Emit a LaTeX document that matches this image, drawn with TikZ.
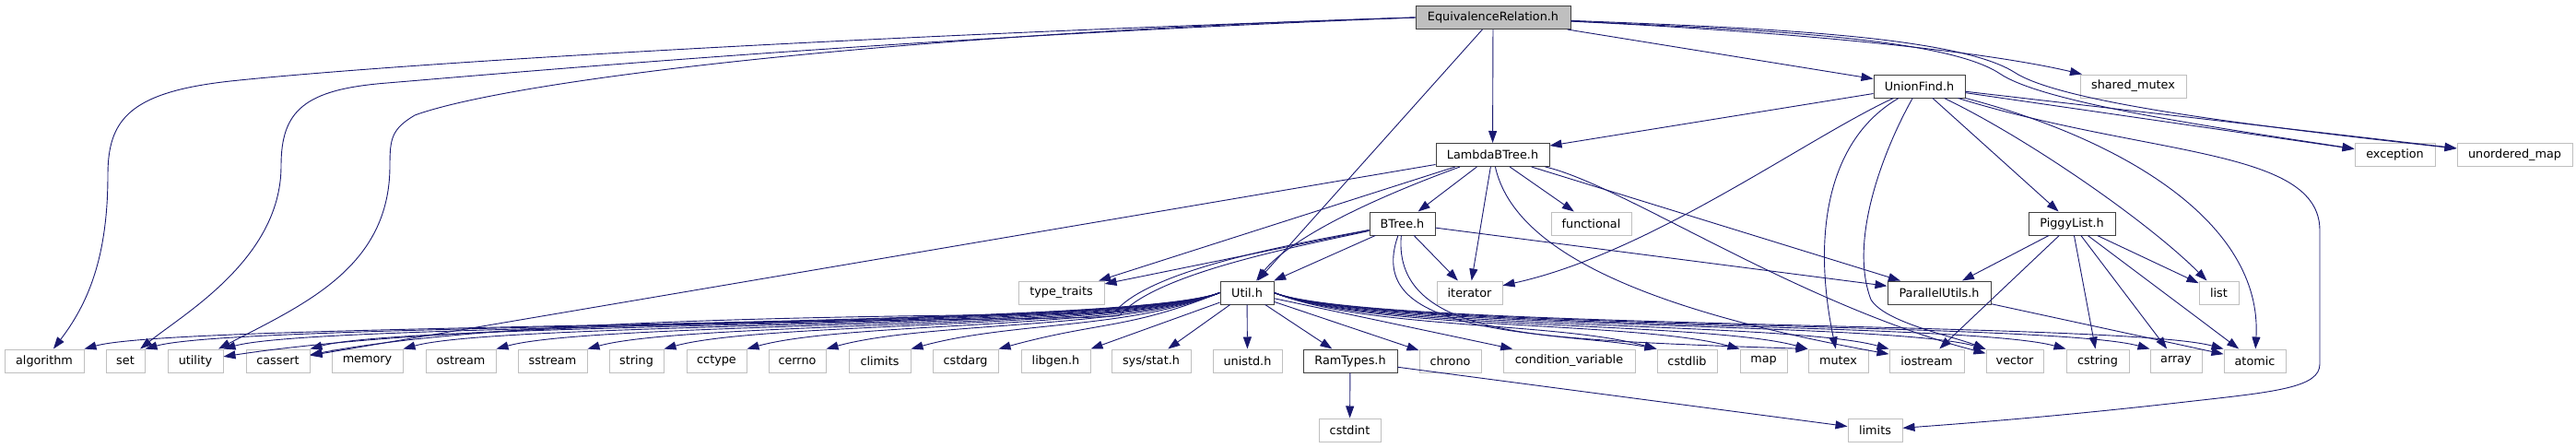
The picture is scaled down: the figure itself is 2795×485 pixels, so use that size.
\documentclass[tikz,border=0pt]{standalone}
\usepackage{xcolor}
\usepackage{fontspec}
\setmainfont{DejaVu Sans}
\usepackage{tikz}
\usetikzlibrary{arrows.meta, calc}
\definecolor{edgeblue}{RGB}{25, 25, 112}
\definecolor{boxgray}{RGB}{191, 191, 191}
\definecolor{boxdark}{RGB}{64, 64, 64}

\begin{document}
\begin{tikzpicture}[
    x=1pt, y=1pt,
    hdr/.style={rectangle, draw=boxdark, fill=white, line width=1pt, minimum height=25pt, inner sep=0pt, font=\fontsize{12.8}{15}\selectfont},
    mainhdr/.style={hdr, fill=boxgray},
    sys/.style={hdr, draw=boxgray},
    dep/.style={draw=edgeblue, line width=0.9pt, -{Triangle[length=13pt, width=9pt]}}
]
    \useasboundingbox (0,0) rectangle (2795,-485);

    \node (EqRel) [mainhdr, minimum width=168pt] at (1620,-19) {EquivalenceRelation.h};
    \node (UnionFind) [hdr, minimum width=99pt] at (2082.5,-93.5) {UnionFind.h};
    \node (sharedmutex) [sys, minimum width=115pt] at (2314.5,-93.5) {shared\_mutex};
    \node (LambdaBTree) [hdr, minimum width=123pt] at (1619.5,-168) {LambdaBTree.h};
    \node (exception) [sys, minimum width=87pt] at (2598.5,-168) {exception};
    \node (unorderedmap) [sys, minimum width=125pt] at (2728.5,-168) {unordered\_map};
    \node (BTree) [hdr, minimum width=71pt] at (1521.5,-242.5) {BTree.h};
    \node (functional) [sys, minimum width=87pt] at (1726.5,-242.5) {functional};
    \node (PiggyList) [hdr, minimum width=94pt] at (2248,-242.5) {PiggyList.h};
    \node (typetraits) [sys, minimum width=93pt] at (1151.5,-317.5) {type\_traits};
    \node (Util) [hdr, minimum width=58pt] at (1353,-317.5) {Util.h};
    \node (iterator) [sys, minimum width=71pt] at (1594.5,-317.5) {iterator};
    \node (ParallelUtils) [hdr, minimum width=112pt] at (2104,-317.5) {ParallelUtils.h};
    \node (list) [sys, minimum width=43pt] at (2407.5,-317.5) {list};
    \foreach \nm/\cx/\bw/\lbl in {algorithm/48/86/algorithm, set/136/42/set, utility/212/60/utility,
        cassert/301.5/69/cassert, memory/398.5/77/memory, ostream/500/76/ostream, sstream/599.5/75/sstream,
        string/690.5/59/string, cctype/777.5/65/cctype, cerrno/865/62/cerrno, climits/954.5/67/climits,
        cstdarg/1047.5/71/cstdarg, libgen/1145.5/75/libgen.h, sysstat/1249/86/{sys/stat.h},
        unistd/1353.5/75/unistd.h, chrono/1573.5/67/chrono, condvar/1702.5/143/condition\_variable,
        cstdlib/1830.5/65/cstdlib, map/1913.5/51/map, mutex/1994.5/65/mutex, iostream/2090.5/81/iostream,
        vector/2186/62/vector, cstring/2276/68/cstring, array/2361/56/array, atomic/2446.5/67/atomic}
        \node (\nm) [sys, minimum width=\bw pt] at (\cx,-391.5) {\lbl};
    \node (RamTypes) [hdr, minimum width=102pt] at (1465,-391.5) {RamTypes.h};
    \node (cstdint) [sys, minimum width=67pt] at (1464.5,-466.5) {cstdint};
    \node (limits) [sys, minimum width=59pt] at (2034.5,-466.5) {limits};

    \draw [dep] (EqRel.west) .. controls (900,-40) and (420,-70) .. (250,-88) .. controls (140,-100) and (117,-130) .. (117,-190) .. controls (117,-280) and (95,-330) .. (algorithm);
    \draw [dep] (EqRel.west) .. controls (1000,-40) and (600,-75) .. (420,-90) .. controls (330,-97) and (305,-120) .. (305,-180) .. controls (305,-280) and (200,-340) .. (set);
    \draw [dep] (EqRel.west) .. controls (1000,-35) and (560,-85) .. (450,-125) .. controls (425,-140) and (423,-150) .. (423,-180) .. controls (423,-290) and (330,-330) .. (utility);
    \draw [dep] (EqRel) -- (Util);
    \draw [dep] (EqRel) -- (LambdaBTree);
    \draw [dep] (EqRel) -- (UnionFind);
    \draw [dep] (EqRel) .. controls (1950,-35) and (2150,-55) .. (sharedmutex);
    \draw [dep] (EqRel) .. controls (1900,-32) and (2110,-40) .. (2170,-80) .. controls (2215,-110) and (2380,-135) .. (exception);
    \draw [dep] (EqRel) .. controls (1900,-30) and (2120,-38) .. (2185,-78) .. controls (2230,-108) and (2400,-132) .. (unorderedmap);

    \draw [dep] (UnionFind) -- (LambdaBTree);
    \draw [dep] (UnionFind) .. controls (1960,-150) and (1790,-275) .. (iterator);
    \draw [dep] (UnionFind) .. controls (1985,-150) and (1965,-250) .. (mutex);
    \draw [dep] (UnionFind) .. controls (2045,-160) and (2005,-260) .. (2030,-325) .. controls (2045,-350) and (2120,-365) .. (vector);
    \draw [dep] (UnionFind) -- (PiggyList);
    \draw [dep] (UnionFind) .. controls (2200,-150) and (2330,-240) .. (list);
    \draw [dep] (UnionFind) .. controls (2300,-150) and (2455,-240) .. (atomic);
    \draw [dep] (UnionFind) .. controls (2330,-170) and (2517,-160) .. (2517,-250) -- (2517,-395) .. controls (2517,-420) and (2470,-425) .. (2380,-435) .. controls (2250,-450) and (2150,-458) .. (limits);
    \draw [dep] (UnionFind) -- (exception);
    \draw [dep] (UnionFind) -- (unorderedmap);

    \draw [dep] (LambdaBTree) -- (cassert);
    \draw [dep] (LambdaBTree) -- (typetraits);
    \draw [dep] (LambdaBTree) .. controls (1450,-230) and (1390,-270) .. (Util);
    \draw [dep] (LambdaBTree) -- (BTree);
    \draw [dep] (LambdaBTree) -- (iterator);
    \draw [dep] (LambdaBTree) -- (functional);
    \draw [dep] (LambdaBTree) -- (ParallelUtils);
    \draw [dep] (LambdaBTree) .. controls (1760,-200) and (1950,-330) .. (vector);
    \draw [dep] (LambdaBTree) .. controls (1640,-260) and (1750,-330) .. (iostream);

    \draw [dep] (BTree) -- (typetraits);
    \draw [dep] (BTree) -- (Util);
    \draw [dep] (BTree) .. controls (1420,-262) and (1250,-290) .. (1210,-338) .. controls (1190,-345) and (600,-335) .. (cassert);
    \draw [dep] (BTree) .. controls (1420,-265) and (1255,-295) .. (1215,-342) .. controls (1195,-350) and (550,-340) .. (utility);
    \draw [dep] (BTree) -- (iterator);
    \draw [dep] (BTree) -- (ParallelUtils);
    \draw [dep] (BTree) .. controls (1510,-372) and (1700,-360) .. (cstdlib.north west);
    \draw [dep] (BTree) .. controls (1480,-360) and (1640,-368) .. (mutex.north west);

    \foreach \nm in {algorithm, set, utility, cassert, memory, ostream, sstream, string, cctype, cerrno, climits, cstdarg}
        \draw [dep] (Util.west) .. controls (1224,-357.5) and ($(\nm.north east)+(110,30)$) .. (\nm.north east);
    \draw [dep] (Util) -- (libgen.north east);
    \draw [dep] (Util) -- (sysstat);
    \draw [dep] (Util) -- (unistd);
    \draw [dep] (Util) -- (RamTypes);
    \draw [dep] (Util) -- (chrono);
    \draw [dep] (Util) -- (condvar);
    \foreach \nm in {cstdlib, map, mutex, iostream, vector, cstring, array, atomic}
        \draw [dep] (Util.east) .. controls (1482,-357.5) and ($(\nm.north west)+(-110,30)$) .. (\nm.north west);

    \draw [dep] (PiggyList) -- (ParallelUtils);
    \draw [dep] (PiggyList) -- (iostream);
    \draw [dep] (PiggyList) -- (cstring);
    \draw [dep] (PiggyList) -- (array);
    \draw [dep] (PiggyList) -- (atomic);
    \draw [dep] (PiggyList) -- (list);
    \draw [dep] (ParallelUtils) -- (atomic);
    \draw [dep] (RamTypes) -- (cstdint);
    \draw [dep] (RamTypes) -- (limits);
\end{tikzpicture}
\end{document}
